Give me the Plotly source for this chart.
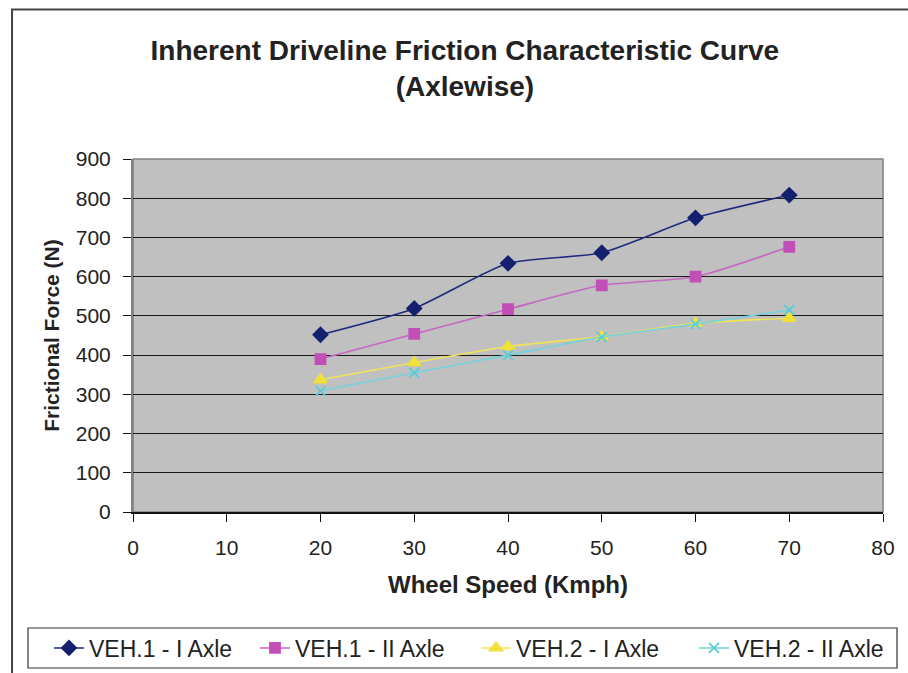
import plotly.graph_objects as go

# Wheel speed (Kmph) and measured frictional force (N) per vehicle / axle
speed = [20, 30, 40, 50, 60, 70]
veh1_axle1 = [452, 519, 634, 661, 750, 808]
veh1_axle2 = [390, 454, 517, 578, 600, 676]
veh2_axle1 = [337, 381, 422, 447, 481, 494]
veh2_axle2 = [309, 355, 400, 446, 479, 515]

series_names = ["VEH.1 - I Axle", "VEH.1 - II Axle", "VEH.2 - I Axle", "VEH.2 - II Axle"]
x_ticks = [0, 10, 20, 30, 40, 50, 60, 70, 80]
y_ticks = [0, 100, 200, 300, 400, 500, 600, 700, 800, 900]

styles = [
    dict(line="#1E2A7E", marker="#14206E", symbol="diamond", size=11),
    dict(line="#C766C4", marker="#C24FB8", symbol="square", size=10),
    dict(line="#F0E45A", marker="#F2E03A", symbol="triangle-up", size=11),
    dict(line="#72D2DE", marker="#5CCAD8", symbol="x-thin", size=10),
]

W, H = 908, 673
font_family = "Liberation Sans, Arial, sans-serif"
text_color = "#222222"

# one legend per series so the entries can be spaced out in a single row
legend_ids = ["legend", "legend2", "legend3", "legend4"]
legend_left_px = [49, 255, 476, 694]

fig = go.Figure()
for name, values, st, lid in zip(series_names,
                                 [veh1_axle1, veh1_axle2, veh2_axle1, veh2_axle2],
                                 styles, legend_ids):
    fig.add_trace(go.Scatter(
        x=speed, y=values, name=name, mode="lines+markers", legend=lid,
        line=dict(color=st["line"], width=1.6, shape="spline", smoothing=0.6),
        marker=dict(symbol=st["symbol"], size=st["size"], color=st["marker"],
                    line=dict(color=st["marker"], width=1.8)),
    ))

legend_layout = {}
for lid, left in zip(legend_ids, legend_left_px):
    legend_layout[lid] = dict(
        orientation="h", xref="container", yref="container",
        x=left / W, xanchor="left", y=1 - 648 / H, yanchor="middle",
        bgcolor="rgba(0,0,0,0)", borderwidth=0,
        font=dict(family=font_family, size=23, color=text_color),
    )

fig.update_layout(
    width=W, height=H,
    margin=dict(l=133, r=25, t=159, b=161, autoexpand=False),
    paper_bgcolor="white",
    plot_bgcolor="#C0C0C0",
    font=dict(family=font_family, size=20, color=text_color),
    title=dict(
        text="<b>Inherent Driveline Friction Characteristic Curve<br>(Axlewise)</b>",
        x=0.512, xanchor="center", y=0.911, yanchor="middle",
        font=dict(family=font_family, size=28, color=text_color),
    ),
    showlegend=True,
    **legend_layout,
    xaxis=dict(
        range=[0, 80], tickvals=x_ticks, showgrid=False, zeroline=False,
        showline=True, linecolor="#111111", linewidth=1.5, automargin=False,
        ticks="outside", ticklen=8, tickcolor="#111111", ticklabelstandoff=8,
        tickfont=dict(size=21),
        title=dict(text="<b>Wheel Speed (Kmph)</b>", font=dict(size=24), standoff=18),
    ),
    yaxis=dict(
        range=[0, 900], tickvals=y_ticks, showgrid=True, gridcolor="#1A1A1A", gridwidth=1,
        zeroline=False, showline=True, linecolor="#808080", linewidth=2, automargin=False,
        ticks="outside", ticklen=8, tickcolor="#111111", ticklabelstandoff=8,
        tickfont=dict(size=21),
        title=dict(text="<b>Frictional Force (N)</b>", font=dict(size=21), standoff=10),
    ),
    shapes=[
        # plot-area frame
        dict(type="rect", xref="paper", yref="paper", x0=0, x1=1, y0=0, y1=1,
             line=dict(color="#808080", width=1.5), layer="below"),
        # outer chart border
        dict(type="rect", xref="paper", yref="paper",
             x0=-0.1613, x1=1.05, y0=-0.6, y1=1.4235,
             line=dict(color="#444444", width=2)),
        # legend frame
        dict(type="rect", xref="paper", yref="paper",
             x0=-0.14, x1=1.0187, y0=-0.4419, y1=-0.3286,
             line=dict(color="#333333", width=1.2)),
    ],
)

fig.write_html("out.html")
